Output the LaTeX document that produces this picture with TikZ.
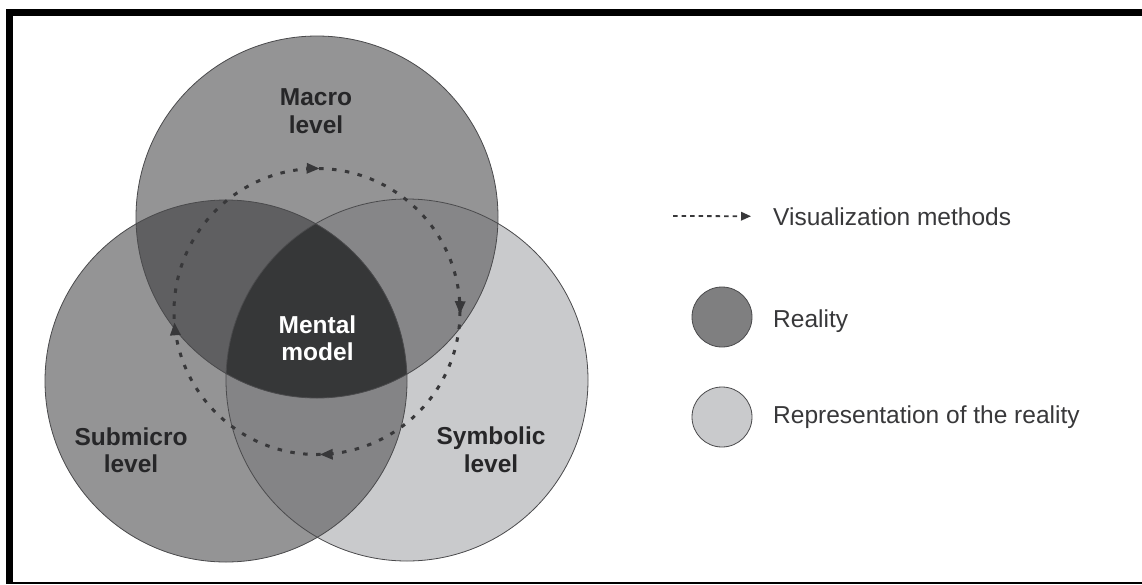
\documentclass[tikz,border=0pt]{standalone}
\usepackage{fontspec}
\setmainfont{Liberation Sans}
\usetikzlibrary{arrows.meta,decorations.markings}

% greys of the three sets and their overlaps
\definecolor{realfill}{HTML}{949495}
\definecolor{symfill}{HTML}{C9CACC}
\definecolor{macsubfill}{HTML}{5F5F61}
\definecolor{macsymfill}{HTML}{868688}
\definecolor{subsymfill}{HTML}{848486}
\definecolor{corefill}{HTML}{363738}
\definecolor{legreal}{HTML}{7F7F80}
\definecolor{rimline}{HTML}{4A4A4C}
\definecolor{cycline}{HTML}{38383A}
\definecolor{labelink}{HTML}{262628}
\definecolor{legendink}{HTML}{38383A}

\tikzset{
  rim/.style={draw=rimline, line width=0.8pt},
  lvl/.style={text=labelink, align=center, inner sep=0pt,
    font=\fontsize{24.5}{27.5}\selectfont\bfseries},
  core/.style={lvl, text=white},
  legtext/.style={text=legendink, inner sep=0pt,
    font=\fontsize{24.5}{28}\selectfont},
  legdot/.style={circle, minimum size=60pt, inner sep=0pt, rim},
  cyctip/.style={Triangle[length=13pt,width=10pt]},
  cycpath/.style={draw=cycline, line width=3pt, dash pattern=on 4.5pt off 8.5pt,
    decoration={markings,
      mark=at position 0.003 with {\arrow{Triangle[length=13pt,width=10pt]}},
      mark=at position 0.247 with {\arrow{Triangle[length=13pt,width=10pt]}},
      mark=at position 0.488 with {\arrow{Triangle[length=13pt,width=10pt]}},
      mark=at position 0.753 with {\arrow{Triangle[length=13pt,width=10pt]}}},
    postaction={decorate}},
  legline/.style={draw=cycline, line width=1.8pt, dash pattern=on 4.5pt off 4pt,
    -{Triangle[length=10pt,width=8.5pt]}}
}

\begin{document}
\begin{tikzpicture}[x=1pt,y=-1pt]
\useasboundingbox (0,0) rectangle (1142,584);
\fill[white] (0,0) rectangle (1142,584);

% frame
\fill[black] (6,9) rectangle (1142,16);
\fill[black] (6,9) rectangle (13,584);
\fill[black] (6,582) rectangle (1142,584);

\def\R{181}
\coordinate (macroC) at (317,217);
\coordinate (subC) at (226,381);
\coordinate (symC) at (407,380);
\coordinate (cycC) at (317,311.5);

% single sets
\fill[realfill] (macroC) circle[radius=\R];
\fill[realfill] (subC) circle[radius=\R];
\fill[symfill] (symC) circle[radius=\R];

% pairwise overlaps
\begin{scope}
  \clip (macroC) circle[radius=\R];
  \fill[macsubfill] (subC) circle[radius=\R];
  \fill[macsymfill] (symC) circle[radius=\R];
\end{scope}
\begin{scope}
  \clip (subC) circle[radius=\R];
  \fill[subsymfill] (symC) circle[radius=\R];
\end{scope}

% common core
\begin{scope}
  \clip (macroC) circle[radius=\R];
  \clip (subC) circle[radius=\R];
  \fill[corefill] (symC) circle[radius=\R];
\end{scope}

% outlines
\draw[rim] (macroC) circle[radius=\R];
\draw[rim] (subC) circle[radius=\R];
\draw[rim] (symC) circle[radius=\R];

% cycle of visualization methods
\draw[cycpath] (cycC) circle[radius=143];

% set labels
\node[lvl] (macro) at (316,111) {Macro\\level};
\node[lvl] (submicro) at (131,450) {Submicro\\level};
\node[lvl] (symbolic) at (491,449.5) {Symbolic\\level};
\node[core] (mental) at (317.5,338) {Mental\\model};

% legend
\coordinate (legstart) at (673,216);
\node[legtext, anchor=base west] (vistext) at (773,225) {Visualization methods};
\draw[legline] (legstart) -- ([xshift=-22pt]vistext.west);

\node[legdot, fill=legreal] (realdot) at (722,317) {};
\node[legtext, anchor=base west] (realtext) at (773,327) {Reality};

\node[legdot, fill=symfill] (repdot) at (722,417) {};
\node[legtext, anchor=base west] (reptext) at (773,423) {Representation of the reality};
\end{tikzpicture}
\end{document}
